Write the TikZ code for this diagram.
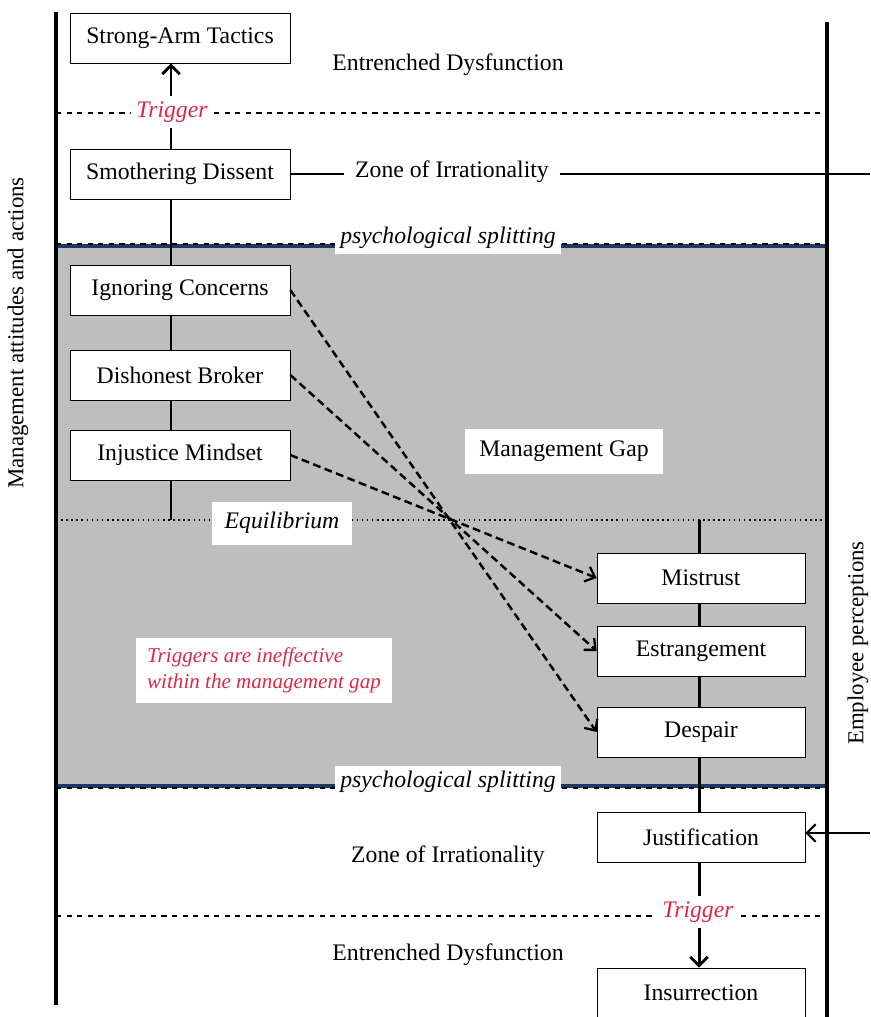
\documentclass[tikz,border=0pt]{standalone}
\usepackage{fontspec}
\setmainfont{Liberation Serif}
\usetikzlibrary{arrows.meta}

\definecolor{gapgray}{RGB}{190,190,190}
\definecolor{splitblue}{RGB}{31,56,100}
\definecolor{trigred}{RGB}{222,40,70}

\begin{document}
\begin{tikzpicture}[x=0.02cm,y=-0.02cm,
	every node/.style={font=\fontsize{13.5}{16}\selectfont},
	stage/.style={draw,fill=white,minimum width=4.4cm,minimum height=1cm,inner sep=2pt},
	percept/.style={stage,minimum width=4.16cm},
	tag/.style={fill=white,inner sep=2pt},
	trig/.style={fill=white,inner sep=3pt,text=trigred,font=\fontsize{13.5}{16}\selectfont\itshape},
	spine/.style={line width=1.7pt},
	rail/.style={line width=2.6pt},
	tip/.style={-{Straight Barb[length=5pt,width=10pt,line width=1.6pt]}},
	gaparrow/.style={dash pattern=on 4.5pt off 2.5pt,line width=1.4pt,-{Straight Barb[length=5pt,width=9pt,line width=1.3pt]}}]
		\useasboundingbox (0,0) rectangle (870,1017);
		\clip (0,0) rectangle (870,1017);

		% Management gap
		\fill[gapgray] (56,245) rectangle (827,787);
		\draw[splitblue,line width=2pt] (56,246) -- (827,246);
		\draw[splitblue,line width=2pt] (56,786) -- (827,786);
		\draw[dashed,line width=0.8pt] (56,244) -- (827,244);
		\draw[dashed,line width=0.8pt] (56,788) -- (827,788);
		\draw[dotted,line width=0.9pt] (56,520) -- (827,520);
		\draw[dashed,line width=0.8pt] (56,113) -- (827,113);
		\draw[dashed,line width=0.8pt] (56,916) -- (827,916);

		% Side rails
		\draw[rail] (56,12) -- (56,1005);
		\draw[rail] (827,22) -- (827,1017);
		\node[rotate=90,font=\fontsize{13}{15}\selectfont] (mgmt) at (18,333) {Management attitudes and actions};
		\node[rotate=90,font=\fontsize{13}{15}\selectfont] (empl) at (858,643) {Employee perceptions};

		\coordinate (eqL) at (171,520);
		\coordinate (eqR) at (699,520);
		\coordinate (zoneEnd) at (870,174);
		\coordinate (justEnd) at (870,833);

		% Management side
		\node[stage] (strong) at (180,38) {Strong-Arm Tactics};
		\node[stage] (smoth) at (180,174) {Smothering Dissent};
		\node[stage] (ignore) at (180,290) {Ignoring Concerns};
		\node[stage] (broker) at (180,375) {Dishonest Broker};
		\node[stage] (unjust) at (180,455) {Injustice Mindset};
		\node[trig] (trigA) at (172,112) {Trigger};

		% Employee side
		\node[percept] (mistrust) at (701,578) {Mistrust};
		\node[percept] (estrange) at (701,651) {Estrangement};
		\node[percept] (despair) at (701,732) {Despair};
		\node[percept] (justif) at (701,837) {Justification};
		\node[percept] (insurr) at (701,993) {Insurrection};
		\node[trig] (trigB) at (698,912) {Trigger};

		% Zone labels
		\node (entrA) at (448,65) {Entrenched Dysfunction};
		\node[inner sep=6pt] (zoneA) at (452,172) {Zone of Irrationality};
		\node (zoneB) at (448,857) {Zone of Irrationality};
		\node (entrB) at (448,955) {Entrenched Dysfunction};
		\node[tag,inner sep=3pt,font=\fontsize{13.5}{16}\selectfont\itshape] (splitA) at (448,238) {psychological splitting};
		\node[tag,inner sep=3pt,font=\fontsize{13.5}{16}\selectfont\itshape] (splitB) at (448,782) {psychological splitting};
		\node[tag,minimum width=2.82cm,minimum height=0.86cm,font=\fontsize{13.5}{16}\selectfont\itshape] (equil) at (282,523) {Equilibrium};
		\node[tag,minimum width=3.96cm,minimum height=0.9cm] (gap) at (564,451) {Management Gap};
		\node[tag,minimum width=5.14cm,minimum height=1.3cm,align=left,text=trigred,font=\fontsize{12}{15}\selectfont\itshape] (ineff) at (264,670) {Triggers are ineffective\\within the management gap};

		% Spines
		\draw[spine] (smoth.north -| eqL) -- (trigA.south -| eqL);
		\draw[spine,tip] (trigA.north -| eqL) -- (strong.south -| eqL);
		\draw[spine] (smoth.south -| eqL) -- (ignore.north -| eqL);
		\draw[spine] (ignore.south -| eqL) -- (broker.north -| eqL);
		\draw[spine] (broker.south -| eqL) -- (unjust.north -| eqL);
		\draw[spine] (unjust.south -| eqL) -- (eqL);
		\draw[spine] (eqR) -- (mistrust.north -| eqR);
		\draw[spine] (mistrust.south -| eqR) -- (estrange.north -| eqR);
		\draw[spine] (estrange.south -| eqR) -- (despair.north -| eqR);
		\draw[spine] (despair.south -| eqR) -- (justif.north -| eqR);
		\draw[spine] (justif.south -| eqR) -- (trigB.north -| eqR);
		\draw[spine,tip] (trigB.south -| eqR) -- (insurr.north -| eqR);

		% Crossing arrows
		\draw[gaparrow] (ignore.east) -- (despair.west);
		\draw[gaparrow] (broker.east) -- (estrange.west);
		\draw[gaparrow] (unjust.east) -- (mistrust.west);

		% Zone of irrationality links
		\draw[line width=1pt] (smoth.east) -- (smoth.east -| zoneA.west);
		\draw[line width=1pt] (zoneEnd -| zoneA.east) -- (zoneEnd);
		\draw[line width=1pt,-{Straight Barb[length=5pt,width=10pt,line width=1.2pt]}] (justEnd) -- (justEnd -| justif.east);
	\end{tikzpicture}
\end{document}
